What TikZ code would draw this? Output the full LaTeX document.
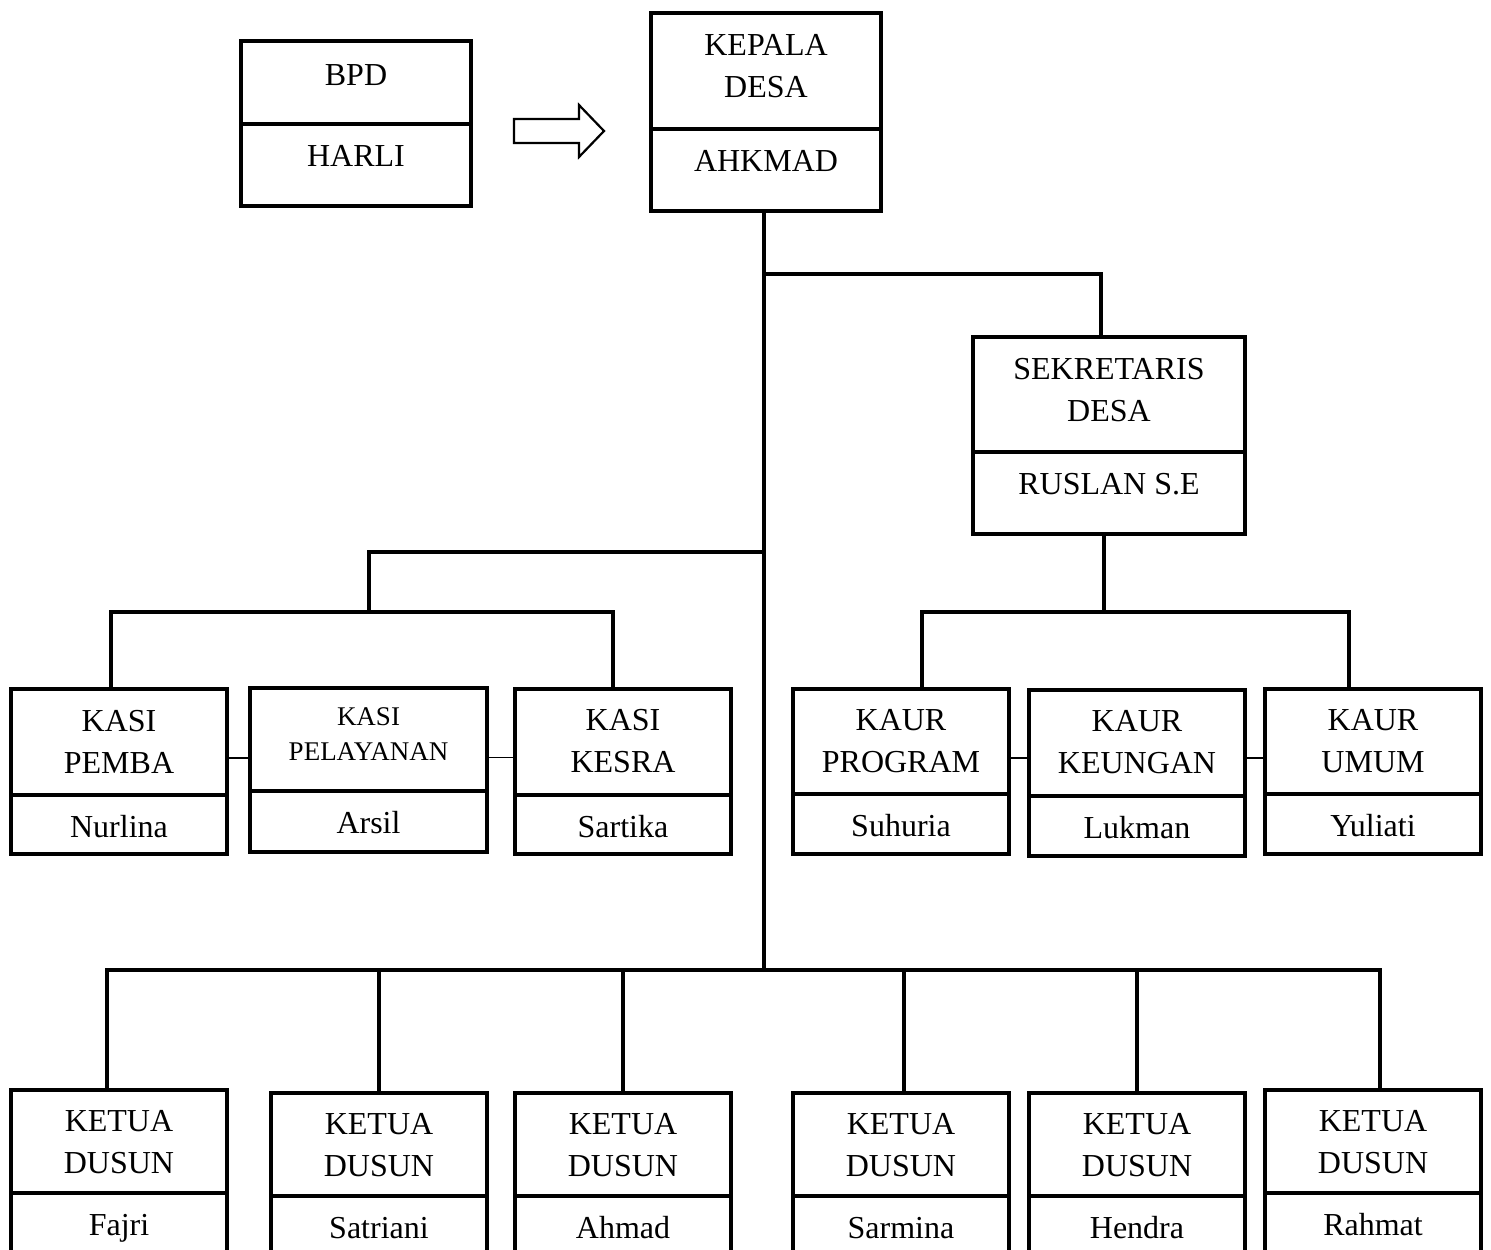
\documentclass[tikz,border=0pt]{standalone}
\usepackage{fontspec}
\setmainfont{Liberation Serif}
\tikzset{
  cell/.style={draw, line width=3.4pt, rectangle, inner sep=0pt, outer sep=0pt},
  ttl/.style={align=center, inner sep=0pt, font=\fontsize{32}{42}\selectfont},
  head/.style={},
  link/.style={line width=3.2pt},
  trunk/.style={line width=3.8pt},
  joint/.style={line width=1.8pt},
  arrowshape/.style={draw, line width=2.2pt, line join=miter, fill=white},
}
\newcommand\orgbox[9]{%
  \node[cell, minimum width={#3-#2}, minimum height={#5-#4}] (#1) at ({(#2+#3)/2},{(#4+#5)/2}) {};
  \node[cell, minimum width={#3-#2}, minimum height={#6-#5}] (#1-n) at ({(#2+#3)/2},{(#5+#6)/2}) {};
  \node[ttl, head] (#1-t) at ({(#2+#3)/2},#8) {#7};
  \node[ttl, anchor=base] (#1-p) at ({(#2+#3)/2},{#5+42}) {#9};
}
\begin{document}
\begin{tikzpicture}[x=1pt,y=-1pt]
\clip (0,0) rectangle (1491,1250);
\fill[white] (0,0) rectangle (1491,1250);

% boxes
\orgbox{bpd}{241}{471}{41}{124}{206}{BPD}{75}{HARLI}
\orgbox{kd}{651}{881}{13}{129}{211}{KEPALA\\DESA}{66}{AHKMAD}
\orgbox{sek}{973}{1245}{337}{452}{534}{SEKRETARIS\\DESA}{390}{RUSLAN S.E}
\orgbox{kpm}{11}{227}{689}{795}{854}{KASI\\PEMBA}{741.5}{Nurlina}
\begin{scope}[head/.style={font=\fontsize{27}{35}\selectfont}]
\orgbox{kpl}{250}{487}{688}{791}{852}{KASI\\PELAYANAN}{734}{Arsil}
\end{scope}
\orgbox{kks}{515}{731}{689}{795}{854}{KASI\\KESRA}{741.5}{Sartika}
\orgbox{kp}{793}{1009}{689}{794}{854}{KAUR\\PROGRAM}{741.5}{Suhuria}
\orgbox{kk}{1029}{1245}{690}{796}{856}{KAUR\\KEUNGAN}{742.5}{Lukman}
\orgbox{ku}{1265}{1481}{689}{794}{854}{KAUR\\UMUM}{741.5}{Yuliati}
\orgbox{d1}{11}{227}{1090}{1193}{1300}{KETUA\\DUSUN}{1142}{Fajri}
\orgbox{d2}{271}{487}{1093}{1196}{1300}{KETUA\\DUSUN}{1145}{Satriani}
\orgbox{d3}{515}{731}{1093}{1196}{1300}{KETUA\\DUSUN}{1145}{Ahmad}
\orgbox{d4}{793}{1009}{1093}{1196}{1300}{KETUA\\DUSUN}{1145}{Sarmina}
\orgbox{d5}{1029}{1245}{1093}{1196}{1300}{KETUA\\DUSUN}{1145}{Hendra}
\orgbox{d6}{1265}{1481}{1090}{1193}{1300}{KETUA\\DUSUN}{1142}{Rahmat}

% block arrow BPD -> Kepala Desa
\draw[arrowshape] (514,119) -- (579,119) -- (579,105) -- (604,131) -- (579,157) -- (579,143) -- (514,143) -- cycle;

% junction points
\coordinate (j1) at (764,274);
\coordinate (j3) at (764,552);
\coordinate (dbar) at (764,970);
\coordinate (kasibar) at (369,612);
\coordinate (kaurbar) at (1104,612);

% trunk
\draw[trunk] ([xshift=-2pt]kd-n.south) -- ([xshift=-2pt]kd-n.south |- dbar);

% sekretaris branch
\draw[link] (j1) -| ([xshift=-8pt]sek.north);
\draw[link] ([xshift=-5pt]sek-n.south) -- (kaurbar);
\draw[link] ([xshift=21pt]kp.north) |- (kaurbar) -| ([xshift=-24pt]ku.north);

% kasi branch
\draw[link] (j3) -| (kasibar);
\draw[link] ([xshift=-8pt]kpm.north) |- (kasibar) -| ([xshift=-10pt]kks.north);

% dusun branch
\draw[trunk] ([xshift=-12pt]d1.north) |- (dbar) -| ([xshift=7pt]d6.north);
\draw[link] (d2.north) -- (d2.north |- dbar);
\draw[link] (d3.north) -- (d3.north |- dbar);
\draw[link] ([xshift=3pt]d4.north) -- ([xshift=3pt]d4.north |- dbar);
\draw[link] (d5.north) -- (d5.north |- dbar);

% thin side joints
\draw[joint] ([yshift=-16pt]kpm.east) -- ([yshift=-16pt]kpm.east -| kpl.west);
\draw[joint] ([yshift=-18pt]kpl.east) -- ([yshift=-18pt]kpl.east -| kks.west);
\draw[joint] ([yshift=-16.5pt]kp.east) -- ([yshift=-16.5pt]kp.east -| kk.west);
\draw[joint] ([yshift=-15pt]kk.east) -- ([yshift=-15pt]kk.east -| ku.west);
\end{tikzpicture}
\end{document}
